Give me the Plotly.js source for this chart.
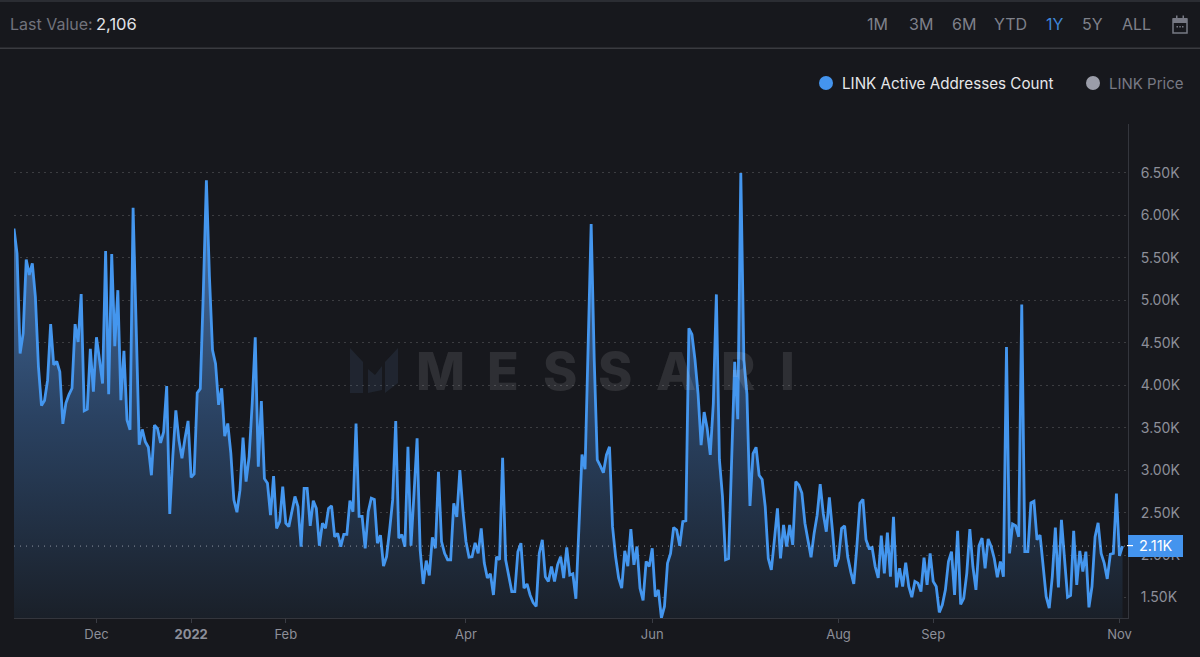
<!DOCTYPE html>
<html><head><meta charset="utf-8">
<script src="https://cdn.plot.ly/plotly-3.0.1.min.js"></script>
<style>html,body{margin:0;padding:0;background:#17181d;overflow:hidden}#c{width:1200px;height:657px}</style>
</head><body><div id="c"></div>
<script>
const startDate = "2021-11-04";
const seriesName = "LINK Active Addresses Count";
const otherSeries = "LINK Price";
const activeAddresses = [
5845,5550,4375,4610,5480,5300,5435,5040,4220,3760,3820,4060,4720,4240,4280,4160,3545,3790,3890,3965,
4720,4510,5075,3700,3720,4430,3925,4565,4300,4020,5580,3895,5545,4460,5120,3825,4405,3590,3475,6090,
4700,3300,3480,3335,3270,2940,3530,3490,3320,3450,3990,2485,3160,3705,3355,3140,3375,3580,2915,2955,
3910,3960,5100,6415,5280,4415,4255,3770,3965,3400,3550,3200,2650,2505,2765,3385,2865,3160,3785,4565,
3040,3815,2900,2845,2470,2930,2315,2395,2805,2375,2335,2530,2690,2570,2100,2785,2785,2345,2640,2550,
2110,2375,2315,2550,2580,2215,2255,2100,2245,2245,2640,2510,3550,2455,2455,2080,2510,2670,2655,2140,
2235,1870,1980,2295,2650,3580,2200,2240,2100,3275,2110,2730,3375,2060,1660,1935,1760,2210,2080,2980,
2160,2020,1945,1945,2610,2450,3000,2530,2160,1975,1980,2145,2020,2315,1905,1730,1780,1530,1980,1945,
3145,1945,1765,1570,1570,2040,2140,1610,1660,1530,1440,1395,2020,2180,1745,1690,1865,1690,1885,1980,
1730,2090,1765,1780,1485,2335,3185,3010,4600,5900,4300,3120,3050,2970,3180,3275,2335,1980,1730,1610,
2050,1870,2305,1885,2100,1610,1465,1925,1865,2080,1510,1590,1260,1395,1905,2020,2325,2295,2110,2395,
2405,4670,4600,4300,3900,3295,3685,3490,3180,3785,5070,3120,2690,1945,1960,3120,4275,3600,6500,4300,
3900,2580,3195,3270,2940,2890,2570,1960,1825,2180,2550,1960,2355,2100,2355,2120,2865,2825,2730,2375,
2160,1975,2255,2470,2835,2490,2275,2680,2295,1865,1960,2315,2345,1980,1805,1660,2100,2610,2655,2180,
2080,2090,1865,1730,2230,1785,2265,1745,2450,1620,1845,1630,1910,1630,1505,1690,1670,1570,1970,1650,
2020,1690,1630,1325,1415,1590,1925,2040,1530,2285,1420,1490,1785,2305,1865,1590,2110,2200,1845,2190,
2100,1960,1740,1925,1745,4450,2020,2365,2345,2215,4950,2040,2040,2615,2635,2180,2235,1865,1510,1375,
1745,2325,1620,2415,1980,1505,1525,2285,1650,2050,1805,2040,1385,1630,2215,2380,2020,1905,1720,2010,
2020,2725,1990,2106];
const yTickVals = [1500,2000,2500,3000,3500,4000,4500,5000,5500,6000,6500];
const yTickText = ["1.50K","2.00K","2.50K","3.00K","3.50K","4.00K","4.50K","5.00K","5.50K","6.00K","6.50K"];
const xTickVals = ["2021-12-01","2022-01-01","2022-02-01","2022-04-01","2022-06-01","2022-08-01","2022-09-01","2022-11-01"];
const xTickText = ["Dec","<b>2022</b>","Feb","Apr","Jun","Aug","Sep","Nov"];
const rangeButtons = ["1M","3M","6M","YTD","1Y","5Y","ALL"];
const lastValue = 2106, lastValueText = "2,106", lastBadge = "2.11K";

const dates = activeAddresses.map((_, i) => {
  const d = new Date(startDate + "T00:00:00Z"); d.setUTCDate(d.getUTCDate() + i);
  return d.toISOString().slice(0, 10);
});

const L = 14, R = 1128, T = 124, B = 618;
const px = x => (x - L) / (R - L), py = y => (B - y) / (B - T);
const FONT = "Inter, 'Noto Sans', sans-serif";
const note = (x, y, text, size, color, anchor, extra) => Object.assign({
  xref: "paper", yref: "paper", x: px(x), y: py(y), text, showarrow: false,
  xanchor: anchor || "left", yanchor: "middle", font: {family: FONT, size, color}, borderpad: 0
}, extra || {});
const rect = (x0, y0, x1, y1, fill, line, type) => ({
  type: type || "rect", xref: "paper", yref: "paper", x0: px(x0), x1: px(x1), y0: py(y0), y1: py(y1),
  fillcolor: fill, line: {color: line || fill, width: line ? 1.5 : 0}
});
const poly = (pts, fill) => ({
  type: "path", xref: "paper", yref: "paper", layer: "above", fillcolor: fill, line: {width: 0},
  path: "M" + pts.map(p => px(p[0]) + "," + py(p[1])).join(" L") + " Z"
});

const btnX = [878, 921, 964, 1010, 1055, 1092, 1136];
const wmX = [440, 503, 560, 615, 676, 738, 787];
const annotations = [
  note(9, 24, "Last Value:", 16, "#70727c"),
  note(95, 24, lastValueText, 16.5, "#e3e4e8"),
  note(841, 83, seriesName, 15.2, "#e6e7ea"),
  note(1108, 83, otherSeries, 15, "#777984"),
  note(1138, 545.5, lastBadge, 14.5, "#ffffff")
];
rangeButtons.forEach((b, i) => annotations.push(
  note(btnX[i], 24, b, 16, b === "1Y" ? "#3f86d8" : "#7f818b", "center")));
"MESSARI".split("").forEach((c, i) => annotations.push(
  note(wmX[i], 371, c, 52, "rgba(255,255,255,0.1)", "center",
    {font: {family: FONT, size: 52, color: "rgba(255,255,255,0.1)", weight: 800}})));

const shapes = [
  rect(0, 0, 1200, 2, "#2b2d33"),
  rect(0, 47.5, 1200, 49, "#3a3b40"),
  rect(819, 76, 833, 90, "#4494ee", null, "circle"),
  rect(1086, 76, 1100, 90, "#9b9da9", null, "circle"),
  rect(1173, 19, 1187, 33, "rgba(0,0,0,0)", "#777984"),
  rect(1173, 18, 1187, 23, "#777984"),
  rect(1176, 15.5, 1177.5, 19, "#777984"),
  rect(1182.5, 15.5, 1184, 19, "#777984"),
  rect(1176.5, 26, 1178, 27.5, "#777984"),
  rect(1179.3, 26, 1180.8, 27.5, "#777984"),
  rect(1182, 26, 1183.5, 27.5, "#777984"),
  {type: "line", xref: "paper", yref: "y", x0: 0, x1: px(1125), y0: lastValue, y1: lastValue,
   line: {color: "rgba(225,230,240,0.55)", width: 1, dash: "1px,5px"}},
  poly([[350,348],[363,362],[363,393],[350,393]], "rgba(90,130,180,0.13)"),
  poly([[368,369],[375,375],[382,366],[382,390],[368,393]], "rgba(90,130,180,0.13)"),
  poly([[385,362],[398,348],[398,383],[385,393]], "rgba(90,130,180,0.13)"),
  rect(1128, 535, 1183, 557, "#4494ee"),
  rect(1127, 545, 1133, 546.2, "#ffffff")
];

const trace = {
  x: dates, y: activeAddresses, type: "scatter", mode: "lines", name: seriesName,
  line: {color: "#4496ee", width: 2.8, shape: "linear"},
  fill: "tozeroy",
  fillgradient: {type: "vertical", start: 6000, stop: 1259,
    colorscale: [[0, "rgba(70,110,160,1)"], [0.5, "rgba(42,66,98,1)"], [1, "rgba(26,32,41,1)"]]},
  hoverinfo: "x+y"
};

const layout = {
  width: 1200, height: 657, showlegend: false,
  paper_bgcolor: "#17181d", plot_bgcolor: "#17181d",
  margin: {l: L, r: 1200 - R, t: T, b: 657 - B, pad: 0},
  font: {family: FONT, color: "#8d8f99"},
  xaxis: {type: "date", range: ["2021-11-04", "2022-11-03 19:00"], tickmode: "array", tickvals: xTickVals, ticktext: xTickText,
    ticks: "outside", ticklen: 4, tickcolor: "#3a3c44", tickwidth: 1, showgrid: false, zeroline: false,
    showline: true, linecolor: "#34363d", linewidth: 1, tickfont: {size: 13, color: "#8d8f99", family: FONT}},
  yaxis: {side: "right", range: [1259, 7077], tickmode: "array", tickvals: yTickVals, ticktext: yTickText,
    ticks: "outside", ticklen: 9, tickcolor: "rgba(0,0,0,0)", showgrid: true, gridcolor: "rgba(255,255,255,0.16)", griddash: "2px,4px", gridwidth: 1,
    zeroline: false, showline: true, linecolor: "#34363d", linewidth: 1, tickfont: {size: 14, color: "#8d8f99", family: FONT}},
  shapes, annotations
};
Plotly.newPlot("c", [trace], layout, {displayModeBar: false, staticPlot: true});
</script></body></html>
